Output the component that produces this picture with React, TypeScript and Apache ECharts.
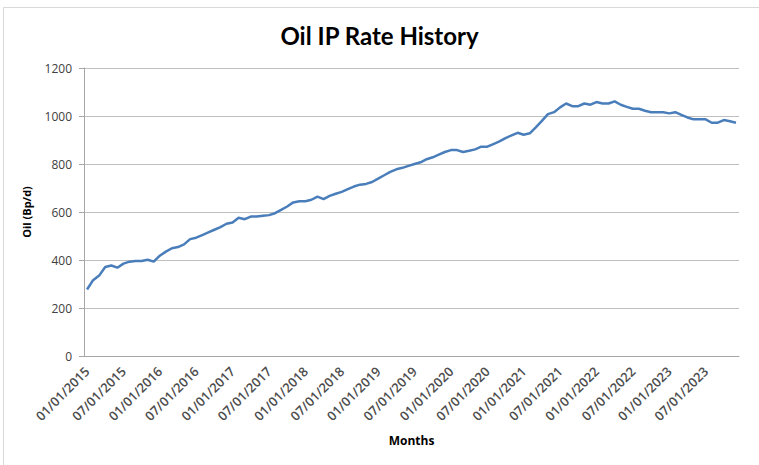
import React, { useEffect, useRef } from "react";
import * as echarts from "echarts";

const startYear = 2015;
const endYear = 2023;

const oilRate: number[] = [
  277, 316, 335, 371, 377, 368, 385, 393, 396, 396, 401, 393,
  418, 435, 449, 454, 465, 487, 493, 504, 515, 526, 537, 551,
  556, 576, 570, 581, 581, 584, 587, 595, 609, 623, 640, 645,
  645, 651, 664, 654, 667, 676, 684, 695, 706, 714, 717, 725,
  739, 753, 767, 778, 784, 792, 800, 807, 820, 828, 839, 850,
  858, 858, 850, 855, 861, 872, 872, 883, 894, 908, 919, 930,
  922, 928, 953, 980, 1008, 1016, 1036, 1052, 1041, 1041, 1052, 1047,
  1058, 1052, 1052, 1061, 1047, 1038, 1030, 1030, 1022, 1016, 1016, 1016,
  1011, 1016, 1005, 994, 986, 986, 986, 972, 972, 983, 978, 972,
];

const months: string[] = [];
for (let y = startYear; y <= endYear; y++) {
  for (let m = 1; m <= 12; m++) {
    months.push(`${String(m).padStart(2, "0")}/01/${y}`);
  }
}

const yTicks = { min: 0, max: 1200, interval: 200 };

export default function App() {
  const ref = useRef<HTMLDivElement>(null);
  useEffect(() => {
    if (!ref.current) return;
    const chart = echarts.init(ref.current, undefined, { renderer: "svg" });
    chart.setOption({
      animation: false,
      backgroundColor: "#ffffff",
      textStyle: { fontFamily: "Open Sans" },
      title: {
        text: "Oil IP Rate History",
        left: "center",
        top: 18,
        textStyle: {
          fontFamily: "Lato",
          fontWeight: "bold",
          fontSize: 24,
          color: "#000000",
        },
      },
      graphic: [
        {
          type: "rect",
          shape: { x: 3.5, y: 7.5, width: 800, height: 500 },
          style: { fill: "none", stroke: "#d9d9d9", lineWidth: 1 },
          silent: true,
        },
      ],
      grid: { left: 84, right: 20, top: 68, bottom: 109, containLabel: false },
      xAxis: {
        type: "category",
        data: months,
        boundaryGap: true,
        name: "Months",
        nameLocation: "middle",
        nameGap: 78,
        nameTextStyle: { fontWeight: "bold", fontSize: 12, color: "#000" },
        axisLine: { lineStyle: { color: "#a6a6a6", width: 1 } },
        axisTick: { interval: 5, length: 5, lineStyle: { color: "#a6a6a6" } },
        axisLabel: {
          interval: 5,
          rotate: 45,
          fontSize: 13,
          fontWeight: 600,
          color: "#4d4d4d",
          margin: 13,
        },
        splitLine: { show: false },
      },
      yAxis: {
        type: "value",
        min: yTicks.min,
        max: yTicks.max,
        interval: yTicks.interval,
        name: "Oil (Bp/d)",
        nameLocation: "middle",
        nameGap: 52,
        nameTextStyle: { fontWeight: "bold", fontSize: 11, color: "#000" },
        axisLine: { show: true, lineStyle: { color: "#a6a6a6", width: 1 } },
        axisTick: { show: true, length: 5, lineStyle: { color: "#a6a6a6" } },
        axisLabel: {
          fontSize: 12,
          color: "#404040",
          margin: 12,
          formatter: (v: number) => String(v),
        },
        splitLine: { lineStyle: { color: "#bfbfbf", width: 1 } },
      },
      series: [
        {
          type: "line",
          data: oilRate,
          showSymbol: false,
          symbol: "none",
          lineStyle: { color: "#4a7ebb", width: 2.5 },
        },
      ],
    });
    return () => chart.dispose();
  }, []);
  return <div ref={ref} style={{ width: 759, height: 465, position: "absolute", left: 0, top: 0 }} />;
}
